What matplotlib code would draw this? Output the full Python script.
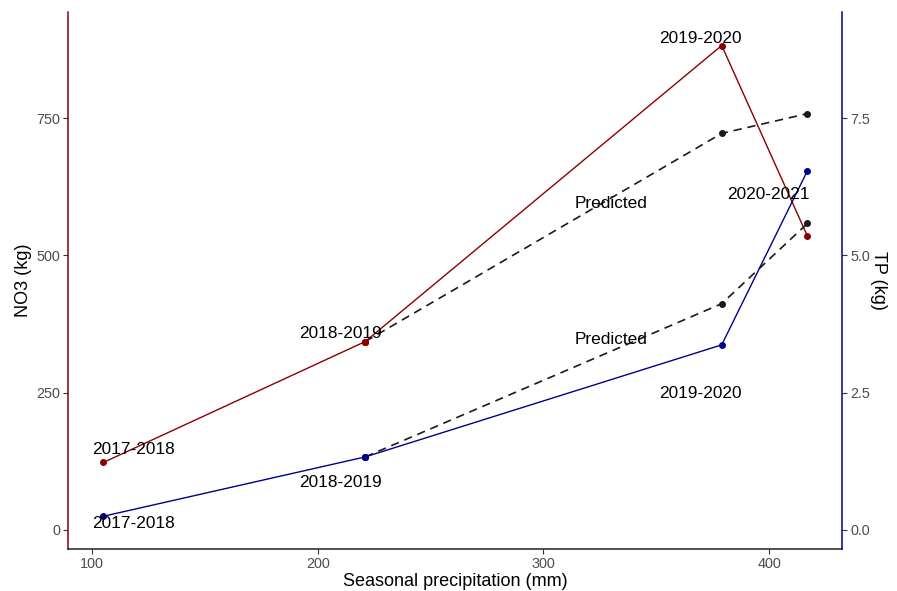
import matplotlib.pyplot as plt
import numpy as np

# seasonal precipitation (mm) per season
precip = [105, 221, 379, 417]
seasons = ["2017-2018", "2018-2019", "2019-2020", "2020-2021"]
no3 = [123, 343, 882, 535]        # NO3 (kg)
tp = [0.25, 1.33, 3.37, 6.54]     # TP (kg)

# predicted curves start from the 2018-2019 observation
pred_precip = [221, 379, 417]
no3_pred = [343, 722, 758]
tp_pred = [1.33, 4.12, 5.58]

RED = "#8B0000"
BLUE = "#00008B"
GREY = "#4D4D4D"

plt.rcParams['font.family'] = ['Liberation Sans', 'DejaVu Sans']

fig = plt.figure(figsize=(8.97, 5.91), dpi=100)
ax = fig.add_axes([0.0761, 0.0711, 0.8623, 0.9086])
ax2 = ax.twinx()

ax.set_xlim(89.4, 432.2)
ax.set_ylim(-34.6, 943)
ax2.set_ylim(-0.346, 9.43)

# NO3 on left axis
ax.plot(precip, no3, color=RED, lw=1.0, marker="o", ms=4, zorder=3)
ax.plot(pred_precip, no3_pred, color="#1a1a1a", lw=1.2, ls=(0, (5, 3.5)),
        marker="o", ms=4, zorder=2)
ax.plot(precip[1], no3[1], "o", color=RED, ms=4, zorder=4)

# TP on right axis
ax2.plot(precip, tp, color=BLUE, lw=1.0, marker="o", ms=4, zorder=3)
ax2.plot(pred_precip, tp_pred, color="#1a1a1a", lw=1.2, ls=(0, (5, 3.5)),
         marker="o", ms=4, zorder=2)
ax2.plot(precip[1], tp[1], "o", color=BLUE, ms=4, zorder=4)

# labels
fs = 12.4
no3_lab_x = [118.5, 210.2, 369.7]
no3_lab_y = [147, 357, 894]
for s, lx, ly in zip(seasons[:3], no3_lab_x, no3_lab_y):
    ax.text(lx, ly, s, fontsize=fs, ha="center", va="center", color="black")
tp_lab_x = [118.5, 210.2, 369.7, 399.8]
tp_lab_y = [0.11, 0.87, 2.49, 6.10]
for s, lx, ly in zip(seasons, tp_lab_x, tp_lab_y):
    ax2.text(lx, ly, s, fontsize=fs, ha="center", va="center", color="black")
ax.text(329.8, 595, "Predicted", fontsize=fs, ha="center", va="center")
ax.text(329.8, 346, "Predicted", fontsize=fs, ha="center", va="center")

# axes styling (classic theme)
ax.set_xticks([100, 200, 300, 400])
ax.set_yticks([0, 250, 500, 750])
ax2.set_yticks([0.0, 2.5, 5.0, 7.5])
ax2.set_yticklabels(["0.0", "2.5", "5.0", "7.5"])

for a in (ax, ax2):
    a.spines["top"].set_visible(False)
    a.tick_params(labelsize=10.4, labelcolor=GREY, length=3.5, width=0.8,
                  color="#333333", pad=2.5)
ax2.spines["left"].set_visible(False)
ax2.spines["bottom"].set_visible(False)
ax.spines["right"].set_visible(False)
ax.spines["left"].set_color(RED)
ax.spines["left"].set_linewidth(1.1)
ax2.spines["right"].set_color(BLUE)
ax2.spines["right"].set_linewidth(1.1)
ax.spines["bottom"].set_color("#222222")
ax.spines["bottom"].set_linewidth(1.1)

ax.set_xlabel("Seasonal precipitation (mm)", fontsize=13, labelpad=1)
ax.set_ylabel("NO3 (kg)", fontsize=13, labelpad=3)
ax2.set_ylabel("TP (kg)", fontsize=13, rotation=270, labelpad=12)

fig.savefig("out.png", dpi=100)
